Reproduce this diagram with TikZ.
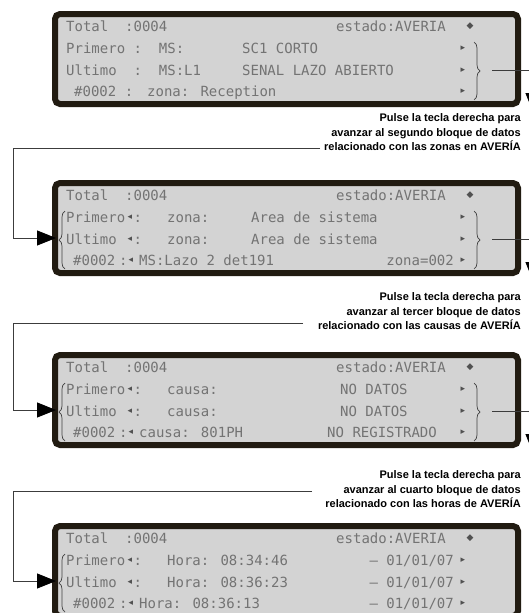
\documentclass[tikz,border=0pt]{standalone}
\usepackage{fontspec}
\setmainfont{Liberation Sans}
\newfontfamily\lcdfont{DejaVu Sans Mono}
\newfontfamily\lcdsymfont{DejaVu Sans}
\usetikzlibrary{arrows.meta,decorations.pathreplacing}

\definecolor{lcdback}{RGB}{211,211,211}
\definecolor{lcdframe}{RGB}{33,27,17}
\definecolor{lcdink}{RGB}{115,115,115}
\definecolor{wirecol}{RGB}{60,60,60}

\tikzset{
  panel/.style={draw=lcdframe, fill=lcdback, line width=6pt, rounded corners=5pt},
  lcd/.style={font=\lcdfont\fontsize{14}{14}\selectfont, text=lcdink, inner sep=0pt, anchor=base west},
  lcdend/.style={lcd, anchor=base east},
  lcdsym/.style={font=\lcdsymfont\fontsize{9}{9}\selectfont, text=lcdink!70!black, inner sep=0pt},
  bracket/.style={draw=black!75, line width=0.7pt, decorate, decoration={brace, amplitude=6pt}},
  hint/.style={font=\bfseries\fontsize{11}{14.5}\selectfont, align=right, inner sep=0pt, anchor=north east},
  wire/.style={draw=wirecol, line width=0.9pt},
  go/.style={wire, -{Triangle[length=19pt, width=15pt, color=black]}},
}

\begin{document}
\begin{tikzpicture}[x=1pt, y=-1pt]
\useasboundingbox (0,0) rectangle (529,613);

% rail on the left for the return lines
\coordinate (rail) at (13,0);

% display 1
\begin{scope}[shift={(0,11)}, name prefix=p1-]
  \path[panel] (55,3) rectangle (518,93);
  \node[lcd] (tot) at (66,20) {Total\ \ :0004};
  \node[lcdend] (st) at (446,20) {estado:AVERIA};
  \node[lcdsym] (ud) at (470,15) {◆};
  \node[lcd] (r1) at (66,42) {Primero\ :\ \ MS:};
  \node[lcd] (r1b) at (242,42) {SC1 CORTO};
  \node[lcd] (r2) at (66,64) {Ultimo\ \ :\ \ MS:L1};
  \node[lcd] (r2b) at (242,64) {SENAL LAZO ABIERTO};
  \node[lcd] (r3) at (74,85) {\#0002\ :};
  \node[lcd] (r3b) at (147,85) {zona: Reception};
  \foreach \r in {37,59,80} \node[lcdsym] (nx\r) at (463,\r) {▸};
  \draw[bracket] (474,31) -- (474,89);
  \coordinate (out) at (492,59);
  \coordinate (drop) at (533,101);
\end{scope}

% display 2
\begin{scope}[shift={(0,180)}, name prefix=p2-]
  \path[panel] (55,3) rectangle (518,93);
  \node[lcd] (tot) at (66,20) {Total\ \ :0004};
  \node[lcdend] (st) at (446,20) {estado:AVERIA};
  \node[lcdsym] (ud) at (470,15) {◆};
  \node[lcd] (r1) at (66,42) {Primero\ :};
  \node[lcd] (r1b) at (167,42) {zona:};
  \node[lcd] (r1c) at (251,42) {Area de sistema};
  \node[lcd] (r2) at (66,64) {Ultimo\ \ :};
  \node[lcd] (r2b) at (167,64) {zona:};
  \node[lcd] (r2c) at (251,64) {Area de sistema};
  \node[lcd] (r3) at (73,85) {\#0002};
  \node[lcd] (r3a) at (119,85) {:};
  \node[lcd] (r3b) at (139,85) {MS:Lazo 2 det191};
  \node[lcdend] (r3c) at (454,85) {zona=002};
  \foreach \r/\x in {37/130,59/130,80/131} \node[lcdsym] (pv\r) at (\x,\r) {◂};
  \foreach \r in {37,59,80} \node[lcdsym] (nx\r) at (463,\r) {▸};
  \draw[bracket] (65,89) -- (65,31);
  \draw[bracket] (474,31) -- (474,89);
  \coordinate (in) at (56,58);
  \coordinate (out) at (492,59);
  \coordinate (drop) at (533,101);
\end{scope}

% display 3
\begin{scope}[shift={(0,352)}, name prefix=p3-]
  \path[panel] (55,3) rectangle (518,93);
  \node[lcd] (tot) at (66,20) {Total\ \ :0004};
  \node[lcdend] (st) at (446,20) {estado:AVERIA};
  \node[lcdsym] (ud) at (470,15) {◆};
  \node[lcd] (r1) at (66,42) {Primero\ :};
  \node[lcd] (r1b) at (167,42) {causa:};
  \node[lcd] (r1c) at (340,42) {NO DATOS};
  \node[lcd] (r2) at (66,64) {Ultimo\ \ :};
  \node[lcd] (r2b) at (167,64) {causa:};
  \node[lcd] (r2c) at (340,64) {NO DATOS};
  \node[lcd] (r3) at (73,85) {\#0002};
  \node[lcd] (r3a) at (119,85) {:};
  \node[lcd] (r3b) at (139,85) {causa: 801PH};
  \node[lcdend] (r3c) at (437,85) {NO REGISTRADO};
  \foreach \r/\x in {37/130,59/130,80/131} \node[lcdsym] (pv\r) at (\x,\r) {◂};
  \foreach \r in {37,59,80} \node[lcdsym] (nx\r) at (463,\r) {▸};
  \draw[bracket] (65,89) -- (65,31);
  \draw[bracket] (474,31) -- (474,89);
  \coordinate (in) at (56,58);
  \coordinate (out) at (492,59);
  \coordinate (drop) at (533,101);
\end{scope}

% display 4
\begin{scope}[shift={(0,523)}, name prefix=p4-]
  \path[panel] (55,3) rectangle (518,93);
  \node[lcd] (tot) at (66,20) {Total\ \ :0004};
  \node[lcdend] (st) at (446,20) {estado:AVERIA};
  \node[lcdsym] (ud) at (470,15) {◆};
  \node[lcd] (r1) at (66,42) {Primero\ :};
  \node[lcd] (r1b) at (167,42) {Hora: 08:34:46};
  \node[lcdend] (r1c) at (454,42) {– 01/01/07};
  \node[lcd] (r2) at (66,64) {Ultimo\ \ :};
  \node[lcd] (r2b) at (167,64) {Hora: 08:36:23};
  \node[lcdend] (r2c) at (454,64) {– 01/01/07};
  \node[lcd] (r3) at (73,85) {\#0002};
  \node[lcd] (r3a) at (119,85) {:};
  \node[lcd] (r3b) at (139,85) {Hora: 08:36:13};
  \node[lcdend] (r3c) at (454,85) {– 01/01/07};
  \foreach \r/\x in {37/130,59/130,80/131} \node[lcdsym] (pv\r) at (\x,\r) {◂};
  \foreach \r in {37,59,80} \node[lcdsym] (nx\r) at (463,\r) {▸};
  \draw[bracket] (65,89) -- (65,31);
  \coordinate (in) at (56,58);
\end{scope}

% hints
\node[hint] (h1) at (521,113.5) {Pulse la tecla derecha para\\avanzar al segundo bloque de datos\\relacionado con las zonas en AVERÍA};
\node[hint] (h2) at (521,292.5) {Pulse la tecla derecha para\\avanzar al tercer bloque de datos\\relacionado con las causas de AVERÍA};
\node[hint] (h3) at (521,470.5) {Pulse la tecla derecha para\\avanzar al cuarto bloque de datos\\relacionado con las horas de AVERÍA};
\coordinate (s1) at (320,148);
\coordinate (s2) at (303,323);
\coordinate (s3) at (312,491);

% arrows
\draw[go] (p1-out) -| (p1-drop);
\draw[go] (p2-out) -| (p2-drop);
\draw[go] (p3-out) -| (p3-drop);
\draw[go] (s1) -- (s1 -| rail) |- (p2-in);
\draw[go] (s2) -- (s2 -| rail) |- (p3-in);
\draw[go] (s3) -- (s3 -| rail) |- (p4-in);

\end{tikzpicture}
\end{document}
